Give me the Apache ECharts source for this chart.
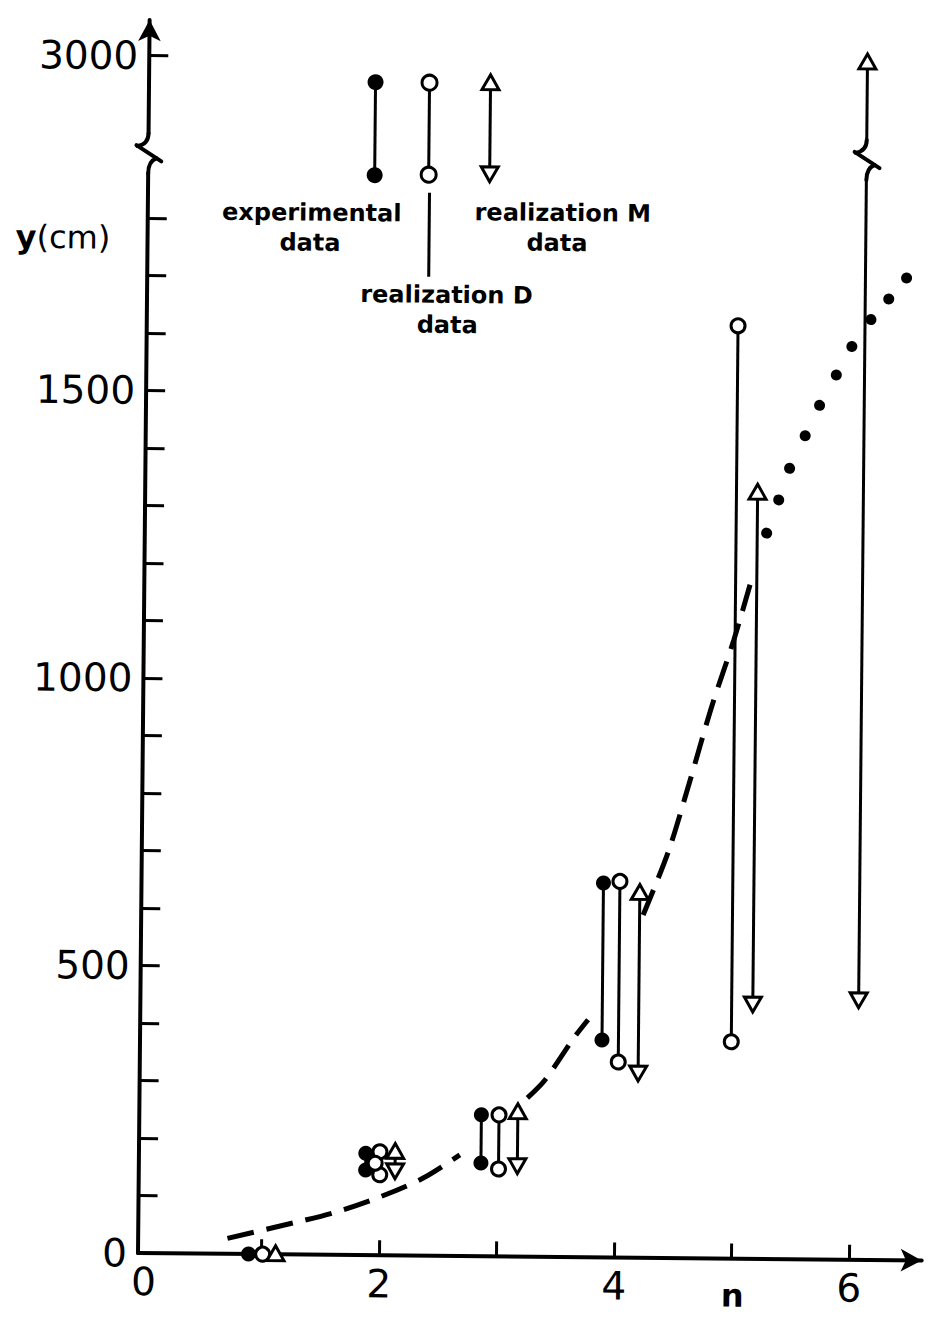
<!DOCTYPE html>
<html>
<head>
<meta charset="utf-8">
<script src="https://cdn.jsdelivr.net/npm/echarts@6/dist/echarts.min.js"></script>
<style>
  html, body { margin: 0; padding: 0; background: #fff; overflow: hidden; }
  /* the printed figure sits slightly tilted on the page */
  #chart { width: 933px; height: 1317px; transform: rotate(0.54deg); transform-origin: 138px 1253px; }
</style>
</head>
<body>
<div id="chart"></div>
<script>
// ranges per step n: [n position, lower y (cm), upper y (cm)]
const experimental = [[0.89, 0, 0], [1.88, 148, 177], [2.86, 162, 246], [3.88, 378, 651]];
const realizationD = [[1.01, 0, 0], [2.00, 140, 180], [1.96, 160, 160], [3.01, 152, 246], [4.02, 340, 654], [4.98, 377, 1622]];
const realizationM = [[1.12, 0, 0], [2.13, 148, 180], [3.17, 159, 251], [4.19, 322, 634], [5.16, 444, 1332], [6.06, 453, 3000]];

// dashed trend curve, drawn in three pieces
const trendA = [[0.71, 27], [1.27, 55], [1.61, 73], [2.01, 102], [2.37, 135], [2.68, 176]];
const trendB = [[3.25, 276], [3.40, 308], [3.64, 381], [3.76, 413]];
const trendC = [[4.22, 596], [4.43, 707], [4.61, 832], [4.79, 962], [4.97, 1076], [5.13, 1192]];
// dotted continuation
const trendDots = [[5.24, 1262], [5.34, 1320], [5.43, 1375], [5.56, 1432], [5.68, 1485], [5.82, 1538], [5.95, 1588], [6.11, 1635], [6.26, 1671], [6.41, 1708]];

// axis ticks and labels
const xTicks = [1, 2, 3, 4, 5, 6];
const xLabels = [0, 2, 4, 6];
const yTicks = [100, 200, 300, 400, 500, 600, 700, 800, 900, 1000, 1100, 1200, 1300, 1400, 1500, 1600, 1700, 1800, 3000];
const yLabels = [0, 500, 1000, 1500, 3000];
const yBreak = { start: 1900, end: 2843, gap: 25 };

const INK = '#000';

function marker(kind, p, dir, r) {
  const [cx, cy] = p;
  if (kind === 'exp') {
    return { type: 'circle', shape: { cx, cy, r: r }, style: { fill: INK } };
  }
  if (kind === 'D') {
    return { type: 'circle', shape: { cx, cy, r: r - 0.5 }, style: { fill: '#fff', stroke: INK, lineWidth: 3 } };
  }
  const w = r + 1, h = r + 1;
  const pts = dir === 'up'
    ? [[cx, cy - h], [cx - w, cy + h * 0.75], [cx + w, cy + h * 0.75]]
    : [[cx, cy + h], [cx - w, cy - h * 0.75], [cx + w, cy - h * 0.75]];
  return { type: 'polygon', shape: { points: pts }, style: { fill: '#fff', stroke: INK, lineWidth: 3, lineJoin: 'miter' } };
}

function rangeRenderer(kind) {
  return function (params, api) {
    const x = api.value(0), lo = api.value(1), hi = api.value(2);
    const pHi = api.coord([x, hi]);
    const pLo = api.coord([x, lo]);
    const children = [];
    if (hi !== lo) {
      children.push({ type: 'line', shape: { x1: pHi[0], y1: pHi[1], x2: pLo[0], y2: pLo[1] }, style: { stroke: INK, lineWidth: 3 } });
    }
    children.push(marker(kind, pHi, 'up', 7.5));
    if (hi !== lo) children.push(marker(kind, pLo, 'down', 7.5));
    return { type: 'group', children };
  };
}

function rangeSeries(name, kind, data) {
  return {
    name, type: 'custom', data, clip: false, z: 5,
    encode: { x: 0, y: [1, 2] },
    renderItem: rangeRenderer(kind)
  };
}

function trendSeries(data) {
  return {
    type: 'line', data, smooth: 0.3, symbol: 'none', z: 3,
    lineStyle: { color: INK, width: 5, type: [27, 13], cap: 'butt' }
  };
}

const plain = v => String(v);

const chart = echarts.init(document.getElementById('chart'), null, { renderer: 'svg' });

chart.setOption({
  animation: false,
  backgroundColor: '#fff',
  grid: { left: 138, top: 20, right: 11.3, bottom: 64, containLabel: false },
  xAxis: {
    type: 'value', min: -0.05, max: 6.617,
    axisLine: { show: true, onZero: false, lineStyle: { color: INK, width: 4 }, symbol: ['none', 'arrow'], symbolSize: [17, 21] },
    axisTick: { show: true, inside: true, length: 15, lineStyle: { color: INK, width: 3 }, customValues: xTicks },
    axisLabel: { customValues: xLabels, formatter: plain, margin: 9, color: INK, fontSize: 39, fontFamily: 'DejaVu Sans' },
    splitLine: { show: false }
  },
  yAxis: {
    type: 'value', min: 0, max: 3062,
    breaks: [yBreak],
    breakArea: { show: false, itemStyle: { opacity: 0 } },
    axisLine: { show: true, onZero: false, lineStyle: { color: INK, width: 4 }, symbol: ['none', 'arrow'], symbolSize: [17, 21] },
    axisTick: { show: true, inside: true, length: 19, lineStyle: { color: INK, width: 3 }, customValues: yTicks },
    axisLabel: { customValues: yLabels, formatter: plain, margin: 11, color: INK, fontSize: 39, fontFamily: 'DejaVu Sans' },
    splitLine: { show: false }
  },
  series: [
    trendSeries(trendA),
    trendSeries(trendB),
    trendSeries(trendC),
    { type: 'scatter', data: trendDots, symbol: 'circle', symbolSize: 11, itemStyle: { color: INK, opacity: 1 }, z: 4 },
    rangeSeries('experimental data', 'exp', experimental),
    rangeSeries('realization D data', 'D', realizationD),
    rangeSeries('realization M data', 'M', realizationM)
  ]
});

// axis-break glyph: hides a short piece of a vertical line and draws the cut
function breakGlyph(x, cy) {
  const st = { stroke: INK, lineWidth: 4, fill: null, lineCap: 'round' };
  return [
    { type: 'rect', z: 100, shape: { x: x - 5, y: cy - 19, width: 10, height: 38 }, style: { fill: '#fff' } },
    { type: 'bezierCurve', z: 101, shape: { x1: x, y1: cy - 20, cpx1: x, cpy1: cy - 9, x2: x - 11, y2: cy - 7 }, style: st },
    { type: 'line', z: 101, shape: { x1: x - 12, y1: cy - 8, x2: x + 13, y2: cy + 8 }, style: st },
    { type: 'bezierCurve', z: 101, shape: { x1: x + 8, y1: cy + 5, cpx1: x, cpy1: cy + 8, x2: x, y2: cy + 20 }, style: st }
  ];
}

function text(str, x, y, font, align) {
  return { type: 'text', z: 100, style: { text: str, x, y, font, fill: INK, textAlign: align || 'center', textVerticalAlign: 'middle' } };
}

const yS = chart.convertToPixel({ yAxisIndex: 0 }, yBreak.start);
const yE = chart.convertToPixel({ yAxisIndex: 0 }, yBreak.end);
const cyBreak = (yS + yE) / 2;
const xAxisPos = chart.convertToPixel({ xAxisIndex: 0 }, -0.05);
const xLast = chart.convertToPixel({ xAxisIndex: 0 }, realizationM[realizationM.length - 1][0]);
const xN = chart.convertToPixel({ xAxisIndex: 0 }, 5);

const legendFont = 'bold 24px "DejaVu Sans"';
const graphics = [].concat(
  breakGlyph(xAxisPos, cyBreak),
  breakGlyph(xLast, cyBreak),
  [
    // legend key
    { type: 'line', z: 100, shape: { x1: 364.5, y1: 80, x2: 364.5, y2: 173 }, style: { stroke: INK, lineWidth: 3 } },
    Object.assign(marker('exp', [364.5, 80], 'up', 8), { z: 101 }),
    Object.assign(marker('exp', [364.5, 173], 'down', 8), { z: 101 }),
    { type: 'line', z: 100, shape: { x1: 418.5, y1: 80, x2: 418.5, y2: 172 }, style: { stroke: INK, lineWidth: 3 } },
    Object.assign(marker('D', [418.5, 80], 'up', 8), { z: 101 }),
    Object.assign(marker('D', [418.5, 172], 'down', 8), { z: 101 }),
    { type: 'line', z: 100, shape: { x1: 479.5, y1: 80, x2: 479.5, y2: 170 }, style: { stroke: INK, lineWidth: 3 } },
    Object.assign(marker('M', [479.5, 80], 'up', 7.5), { z: 101 }),
    Object.assign(marker('M', [479.5, 170], 'down', 7.5), { z: 101 }),
    { type: 'line', z: 100, shape: { x1: 419.5, y1: 190, x2: 419.5, y2: 274 }, style: { stroke: INK, lineWidth: 3 } },
    text('experimental', 302, 211, legendFont),
    text('data', 300.5, 241, legendFont),
    text('realization D', 437.5, 292, legendFont),
    text('data', 438.5, 322, legendFont),
    text('realization M', 553, 209, legendFont),
    text('data', 547.5, 239, legendFont),
    // axis titles
    text('y', 27, 238, 'bold 32px "DejaVu Sans"', 'right'),
    text('(cm)', 27, 238, '32px "DejaVu Sans"', 'left'),
    text('n', xN + 1, 1290, 'bold 32px "DejaVu Sans"')
  ]
);

chart.setOption({ graphic: { elements: graphics } });
</script>
</body>
</html>
